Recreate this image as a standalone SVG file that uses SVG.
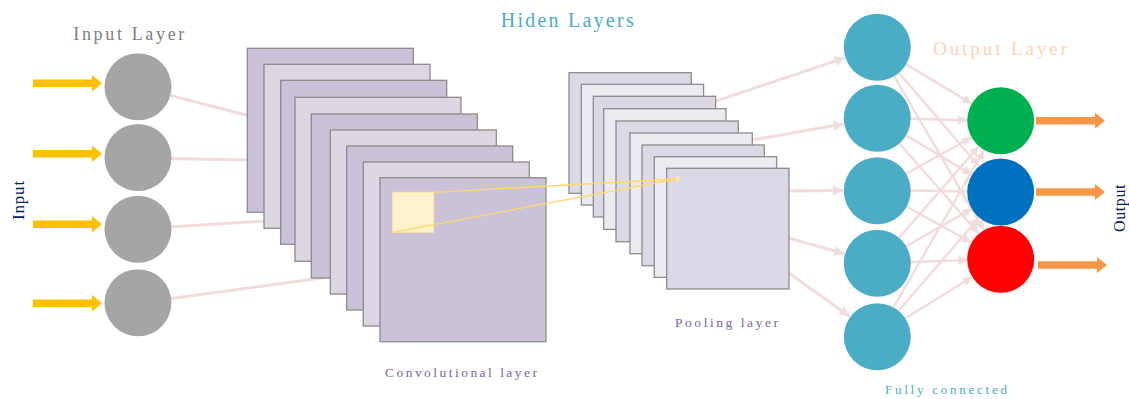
<svg xmlns="http://www.w3.org/2000/svg" width="1129" height="399" viewBox="0 0 1129 399">
  <style>
    .lbl { font-family: "Liberation Serif", "Times New Roman", serif; }
    .link { stroke: #f2dcdb; fill: none; }
    .wire { stroke-width: 3; }
    .mesh { stroke-width: 2.4; }
    .conv-a { fill: #cbc2d9; stroke: #8c8c8c; stroke-width: 1.3; }
    .conv-b { fill: #ddd7e4; stroke: #8c8c8c; stroke-width: 1.3; }
    .pool-a { fill: #ddd8e5; stroke: #8c8c8c; stroke-width: 1.3; }
    .pool-b { fill: #ecebf2; stroke: #8c8c8c; stroke-width: 1.3; }
    .in-node { fill: #a5a5a5; }
    .fc-node { fill: #4bacc6; }
    .in-arrow { fill: #ffc000; }
    .out-arrow { fill: #f79646; }
    .proj { stroke: #ffd966; stroke-width: 1.3; fill: none; }
  </style>
  <defs>
    <marker id="head-lg" viewBox="0 0 10 10" refX="10" refY="5" markerWidth="11" markerHeight="10" markerUnits="userSpaceOnUse" orient="auto">
      <path d="M0,0 L10,5 L0,10 Z" fill="#f2dcdb"/>
    </marker>
    <marker id="head-sm" viewBox="0 0 10 10" refX="10" refY="5" markerWidth="10" markerHeight="9" markerUnits="userSpaceOnUse" orient="auto">
      <path d="M0,0 L10,5 L0,10 Z" fill="#f2dcdb"/>
    </marker>
  </defs>

  <!-- links between layers, drawn beneath the layers -->
  <g id="connectors">
    <!-- input neurons into the convolution stack -->
    <line class="link wire" x1="138" y1="87" x2="250" y2="116"/>
    <line class="link wire" x1="138" y1="158" x2="250" y2="160"/>
    <line class="link wire" x1="138" y1="229" x2="280" y2="220"/>
    <line class="link wire" x1="138" y1="303" x2="336" y2="276"/>
    <!-- pooling stack into the fully connected neurons -->
    <line class="link wire" x1="712" y1="102.3" x2="844.8" y2="57.8" marker-end="url(#head-lg)"/>
    <line class="link wire" x1="748" y1="140.7" x2="843.5" y2="123.9" marker-end="url(#head-lg)"/>
    <line class="link wire" x1="785" y1="191" x2="843" y2="190.4" marker-end="url(#head-lg)"/>
    <line class="link wire" x1="785" y1="236.9" x2="844.3" y2="253.7" marker-end="url(#head-lg)"/>
    <line class="link wire" x1="785" y1="270.1" x2="849.4" y2="316.2" marker-end="url(#head-lg)"/>
    <!-- fully connected neurons into the output neurons -->
    <line class="link mesh" x1="905.3" y1="63.9" x2="971.8" y2="103.6" marker-end="url(#head-sm)"/>
    <line class="link mesh" x1="898.4" y1="72.1" x2="978.9" y2="166.2" marker-end="url(#head-sm)"/>
    <line class="link mesh" x1="893.7" y1="75.5" x2="983.8" y2="229.7" marker-end="url(#head-sm)"/>
    <line class="link mesh" x1="910" y1="118.8" x2="967" y2="120.2" marker-end="url(#head-sm)"/>
    <line class="link mesh" x1="905.3" y1="134.9" x2="971.8" y2="174.6" marker-end="url(#head-sm)"/>
    <line class="link mesh" x1="898.8" y1="142.8" x2="978.6" y2="233.5" marker-end="url(#head-sm)"/>
    <line class="link mesh" x1="905.8" y1="174" x2="971.3" y2="137.5" marker-end="url(#head-sm)"/>
    <line class="link mesh" x1="910" y1="190.5" x2="967" y2="191.5" marker-end="url(#head-sm)"/>
    <line class="link mesh" x1="905.8" y1="206" x2="971.3" y2="242.5" marker-end="url(#head-sm)"/>
    <line class="link mesh" x1="898.7" y1="238.2" x2="978.6" y2="146.6" marker-end="url(#head-sm)"/>
    <line class="link mesh" x1="905.6" y1="246.6" x2="971.5" y2="208.9" marker-end="url(#head-sm)"/>
    <line class="link mesh" x1="910" y1="262" x2="967" y2="260.1" marker-end="url(#head-sm)"/>
    <line class="link mesh" x1="893.5" y1="307.4" x2="984" y2="150.5" marker-end="url(#head-sm)"/>
    <line class="link mesh" x1="898.5" y1="311" x2="978.8" y2="217.8" marker-end="url(#head-sm)"/>
    <line class="link mesh" x1="905" y1="318.6" x2="972.1" y2="276.9" marker-end="url(#head-sm)"/>
  </g>

  <!-- titles -->
  <text class="lbl" x="73.3" y="40" font-size="18" fill="#808080" textLength="111" lengthAdjust="spacing">Input Layer</text>
  <text class="lbl" x="500.7" y="26.7" font-size="20" fill="#4bacc6" textLength="133" lengthAdjust="spacing">Hiden Layers</text>
  <text class="lbl" x="933" y="55" font-size="19" fill="#fbd4b4" textLength="134" lengthAdjust="spacing">Output Layer</text>
  <text class="lbl" transform="translate(23.5,200) rotate(-90)" text-anchor="middle" font-size="17" fill="#002060" letter-spacing="0.8">Input</text>
  <text class="lbl" transform="translate(1125,208) rotate(-90)" text-anchor="middle" font-size="16" fill="#002060" letter-spacing="0.6">Output</text>

  <!-- input neurons with their incoming arrows -->
  <g id="input-1">
    <polygon class="in-arrow" points="33,79.6 92,79.6 92,75 102,83.3 92,91.6 92,87 33,87"/>
    <circle class="in-node" cx="138" cy="86.7" r="33.5"/>
  </g>
  <g id="input-2">
    <polygon class="in-arrow" points="33,150 92,150 92,145.4 102,153.7 92,162 92,157.4 33,157.4"/>
    <circle class="in-node" cx="138" cy="157.5" r="33.5"/>
  </g>
  <g id="input-3">
    <polygon class="in-arrow" points="33,220.6 92,220.6 92,216 102,224.3 92,232.6 92,228 33,228"/>
    <circle class="in-node" cx="138" cy="229.3" r="33.5"/>
  </g>
  <g id="input-4">
    <polygon class="in-arrow" points="33,299.6 92,299.6 92,295 102,303.3 92,311.6 92,307 33,307"/>
    <circle class="in-node" cx="138" cy="302.7" r="33.5"/>
  </g>

  <!-- convolutional feature maps -->
  <g id="conv-layer">
    <rect class="conv-a" x="247.3" y="48.3" width="166" height="164"/>
    <rect class="conv-b" x="264" y="64.3" width="166" height="164"/>
    <rect class="conv-a" x="280.7" y="80.3" width="166" height="164"/>
    <rect class="conv-b" x="295" y="97.3" width="166" height="164"/>
    <rect class="conv-a" x="311.3" y="114" width="166" height="164"/>
    <rect class="conv-b" x="330.3" y="130" width="166" height="164"/>
    <rect class="conv-a" x="346.7" y="146" width="166" height="164"/>
    <rect class="conv-b" x="363.3" y="162" width="166" height="164"/>
    <rect class="conv-a" x="380" y="177.7" width="166" height="164"/>
    <rect x="392.7" y="192.3" width="41" height="40" fill="#fff2cc" stroke="#ffe699" stroke-width="1"/>
    <text class="lbl" x="385" y="377.3" font-size="13.5" fill="#8064a2" textLength="152" lengthAdjust="spacing">Convolutional layer</text>
  </g>

  <!-- pooled feature maps -->
  <g id="pooling-layer">
    <rect class="pool-a" x="569" y="72.7" width="122.3" height="120.7"/>
    <rect class="pool-b" x="581.3" y="84.3" width="122.3" height="120.7"/>
    <rect class="pool-a" x="593.3" y="96.3" width="122.3" height="120.7"/>
    <rect class="pool-b" x="603.7" y="108.7" width="122.3" height="120.7"/>
    <rect class="pool-a" x="616" y="121" width="122.3" height="120.7"/>
    <rect class="pool-b" x="630" y="133" width="122.3" height="120.7"/>
    <rect class="pool-a" x="642" y="145" width="122.3" height="120.7"/>
    <rect class="pool-b" x="654.3" y="156.7" width="122.3" height="120.7"/>
    <rect class="pool-a" x="666.7" y="168.3" width="122.3" height="120.7"/>
    <rect x="675.2" y="177.2" width="3.6" height="3.6" fill="#fff2cc" stroke="#ffe699" stroke-width="0.8"/>
    <text class="lbl" x="675" y="326.7" font-size="13.5" fill="#8064a2" textLength="103" lengthAdjust="spacing">Pooling layer</text>
  </g>

  <!-- receptive field projected onto a pooled cell -->
  <g id="projection">
    <line class="proj" x1="433.7" y1="192.3" x2="677" y2="179"/>
    <line class="proj" x1="392.7" y1="232.3" x2="677" y2="179"/>
  </g>

  <!-- fully connected neurons -->
  <g id="fc-1"><circle class="fc-node" cx="877.3" cy="47.3" r="33.5"/></g>
  <g id="fc-2"><circle class="fc-node" cx="877.3" cy="118.3" r="33.5"/></g>
  <g id="fc-3"><circle class="fc-node" cx="877.3" cy="190.7" r="33.5"/></g>
  <g id="fc-4"><circle class="fc-node" cx="877.3" cy="263.3" r="33.5"/></g>
  <g id="fc-5"><circle class="fc-node" cx="877.3" cy="336.7" r="33.5"/></g>
  <text class="lbl" x="885" y="394.3" font-size="13" fill="#4bacc6" textLength="122" lengthAdjust="spacing">Fully connected</text>

  <!-- output neurons with their outgoing arrows -->
  <g id="output-1">
    <circle cx="1000.7" cy="120.7" r="33.5" fill="#00b050"/>
    <polygon class="out-arrow" points="1036,117 1095,117 1095,112.7 1105,120.7 1095,128.7 1095,124.4 1036,124.4"/>
  </g>
  <g id="output-2">
    <circle cx="1000.7" cy="192" r="33.5" fill="#0070c0"/>
    <polygon class="out-arrow" points="1036,188.3 1095,188.3 1095,184 1105,192 1095,200 1095,195.7 1036,195.7"/>
  </g>
  <g id="output-3">
    <circle cx="1000.7" cy="259.3" r="33.5" fill="#ff0000"/>
    <polygon class="out-arrow" points="1038,261.3 1097,261.3 1097,257 1107,265 1097,273 1097,268.7 1038,268.7"/>
  </g>
</svg>
